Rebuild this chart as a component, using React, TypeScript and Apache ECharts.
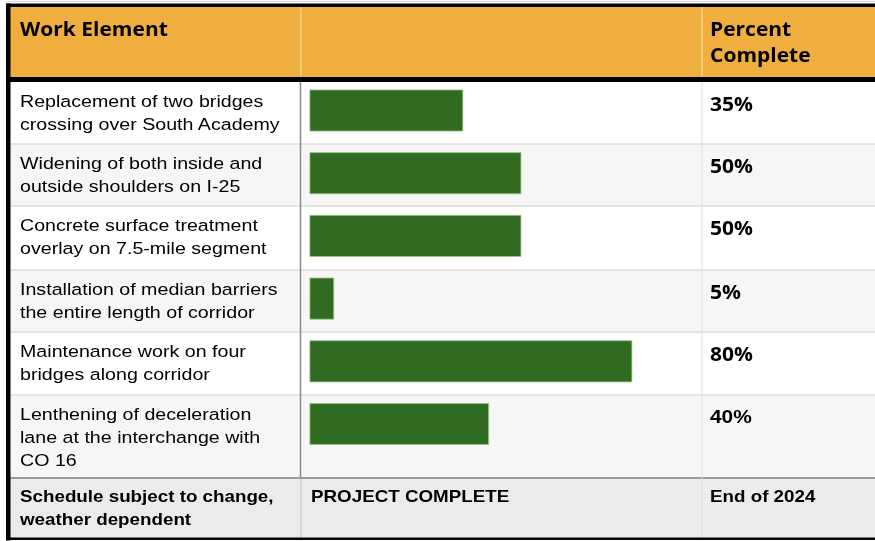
import React, { useEffect, useRef } from "react";
import * as echarts from "echarts";

// ---- data ----
const headerLabels = ["Work Element", "", "Percent\nComplete"];
const workElements = [
  "Replacement of two bridges\ncrossing over South Academy",
  "Widening of both inside and\noutside shoulders on I-25",
  "Concrete surface treatment\noverlay on 7.5-mile segment",
  "Installation of median barriers\nthe entire length of corridor",
  "Maintenance work on four\nbridges along corridor",
  "Lenthening of deceleration\nlane at the interchange with\nCO 16",
];
const percentLabels = ["35%", "50%", "50%", "5%", "80%", "40%"];
// bar lengths as drawn in the picture (percent of full scale)
const barLengths = [38.1, 52.5, 52.5, 6.1, 80, 44.5];
const footerLabels = ["Schedule subject to change,\nweather dependent", "PROJECT COMPLETE", "End of 2024"];

// ---- layout ----
const rowEdges = [82, 144, 206, 270, 332, 395, 478];
const footerBottom = 538;
const colX = [20, 311, 710];
const div1 = 301;
const div2 = 702;
const W = 875;

const ORANGE = "#F0AE3F";
const GREEN = "#306B21";
const HEAD_FONT = "'Open Sans', 'Noto Sans', sans-serif";
const BODY_FONT = "'Liberation Sans', Arial, sans-serif";

export default function App() {
  const ref = useRef<HTMLDivElement>(null);
  useEffect(() => {
    if (!ref.current) return;
    const chart = echarts.init(ref.current, null, { renderer: "svg" });
    const g: any[] = [];
    // header bg
    g.push({ type: "rect", z: 0, shape: { x: 6, y: 6, width: W - 6, height: 72 }, style: { fill: ORANGE } });
    // row backgrounds
    for (let i = 0; i < workElements.length; i++) {
      g.push({
        type: "rect",
        z: 0,
        shape: { x: 6, y: rowEdges[i], width: W - 6, height: rowEdges[i + 1] - rowEdges[i] },
        style: { fill: i % 2 === 0 ? "#FFFFFF" : "#F6F6F4" },
      });
    }
    // footer bg
    g.push({
      type: "rect",
      z: 0,
      shape: { x: 6, y: rowEdges[6], width: W - 6, height: footerBottom - rowEdges[6] },
      style: { fill: "#EBEBEB" },
    });
    // faint line at very top
    g.push({ type: "line", z: 5, shape: { x1: 6, y1: 1.5, x2: W, y2: 1.5 }, style: { stroke: "#D8D8D8", lineWidth: 1 } });
    // row separators
    for (let i = 1; i < 6; i++) {
      g.push({
        type: "line",
        z: 5,
        shape: { x1: 10, y1: rowEdges[i], x2: W, y2: rowEdges[i] },
        style: { stroke: "#DCDCDC", lineWidth: 1.5 },
      });
    }
    g.push({ type: "line", z: 5, shape: { x1: 10, y1: rowEdges[6], x2: W, y2: rowEdges[6] }, style: { stroke: "#9A9A9A", lineWidth: 2 } });
    // column dividers
    g.push({ type: "line", z: 5, shape: { x1: div1, y1: 7, x2: div1, y2: 77 }, style: { stroke: "#FBE3B8", lineWidth: 1 } });
    g.push({ type: "line", z: 5, shape: { x1: div2, y1: 7, x2: div2, y2: 77 }, style: { stroke: "#FBE3B8", lineWidth: 1 } });
    g.push({ type: "line", z: 5, shape: { x1: div1 - 0.5, y1: 82, x2: div1 - 0.5, y2: rowEdges[6] }, style: { stroke: "#8A8A8A", lineWidth: 1.5 } });
    g.push({ type: "line", z: 5, shape: { x1: div1, y1: rowEdges[6] + 1, x2: div1, y2: footerBottom }, style: { stroke: "#C4C4C4", lineWidth: 1 } });
    g.push({ type: "line", z: 5, shape: { x1: div2, y1: 82, x2: div2, y2: footerBottom }, style: { stroke: "#DEDEDE", lineWidth: 1 } });
    // black borders
    g.push({ type: "rect", z: 6, shape: { x: 6, y: 3.5, width: W - 6, height: 3.5 }, style: { fill: "#000" } });
    g.push({ type: "rect", z: 6, shape: { x: 6, y: 77, width: W - 6, height: 5 }, style: { fill: "#000" } });
    g.push({ type: "rect", z: 6, shape: { x: 6, y: 3.5, width: 4.5, height: 537 }, style: { fill: "#000" } });
    g.push({ type: "rect", z: 6, shape: { x: 6, y: 537.5, width: W - 6, height: 2.5 }, style: { fill: "#000" } });

    // header texts
    headerLabels.forEach((t, i) => {
      if (!t) return;
      g.push({
        type: "text",
        z: 10,
        x: colX[i],
        y: 15,
        scaleX: 1.05,
        style: { text: t, fill: "#000", fontFamily: HEAD_FONT, fontWeight: "bold", fontSize: 20, lineHeight: 26, verticalAlign: "top" },
      });
    });
    // row texts
    workElements.forEach((t, i) => {
      g.push({
        type: "text",
        z: 10,
        x: colX[0],
        y: rowEdges[i] + 7.5,
        scaleX: 1.155,
        style: { text: t, fill: "#000", fontFamily: BODY_FONT, fontSize: 17, lineHeight: 23, verticalAlign: "top" },
      });
    });
    percentLabels.forEach((t, i) => {
      g.push({
        type: "text",
        z: 10,
        x: colX[2],
        y: rowEdges[i] + 8.5,
        scaleX: i === 5 ? 1.1 : 1.05,
        style: {
          text: t,
          fill: "#000",
          fontFamily: i === 5 ? BODY_FONT : HEAD_FONT,
          fontWeight: "bold",
          fontSize: i === 5 ? 19 : 20,
          lineHeight: 26,
          verticalAlign: "top",
        },
      });
    });
    footerLabels.forEach((t, i) => {
      g.push({
        type: "text",
        z: 10,
        x: colX[i],
        y: rowEdges[6] + 7,
        scaleX: 1.105,
        style: { text: t, fill: "#000", fontFamily: BODY_FONT, fontWeight: "bold", fontSize: 17, lineHeight: 23, verticalAlign: "top" },
      });
    });

    chart.setOption({
      animation: false,
      grid: { left: 309.5, top: 79.15, width: 403.5, height: 376.2, containLabel: false },
      xAxis: { type: "value", min: 0, max: 100, show: false },
      yAxis: {
        type: "category",
        inverse: true,
        data: workElements.map((_, i) => String(i)),
        show: false,
      },
      graphic: { elements: g },
      series: [
        {
          type: "bar",
          z: 3,
          data: barLengths,
          barWidth: 42,
          itemStyle: { color: GREEN, borderColor: "#9CC985", borderWidth: 0.8 },
        },
      ],
    });
    return () => chart.dispose();
  }, []);
  return <div ref={ref} style={{ position: "fixed", left: 0, top: 0, width: 875, height: 541 }} />;
}
